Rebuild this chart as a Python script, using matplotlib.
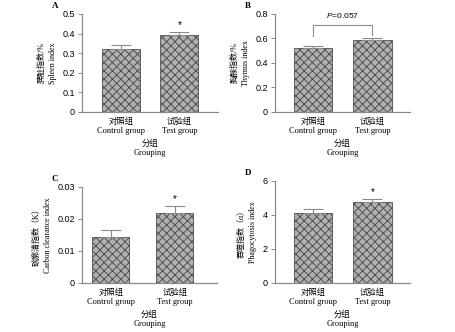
import numpy as np
import matplotlib
matplotlib.use("Agg")
import matplotlib.pyplot as plt

plt.rcParams['font.family'] = ['Liberation Serif', 'Noto Sans CJK SC']
plt.rcParams['hatch.linewidth'] = 0.7
plt.rcParams['mathtext.fontset'] = 'custom'
plt.rcParams['mathtext.it'] = 'Liberation Sans:italic'

groups = ["对照组\nControl group", "试验组\nTest group"]

spleen = [0.32, 0.39]
spleen_err = [0.023, 0.02]
thymus = [0.52, 0.585]
thymus_err = [0.022, 0.017]
carbon = [0.0143, 0.0218]
carbon_err = [0.0021, 0.0022]
phago = [4.12, 4.78]
phago_err = [0.23, 0.15]

panels = [
    dict(tag="A", pos=[0.180, 0.663, 0.299, 0.295], vals=spleen, err=spleen_err,
         ylim=(0, 0.5), yticks=[0, 0.1, 0.2, 0.3, 0.4, 0.5], ylabels=["0", "0.1", "0.2", "0.3", "0.4", "0.5"],
         ylab="脾脏指数/%\nSpleen index", xlim=(-0.67, 1.66), width=0.65, star=[False, True]),
    dict(tag="B", pos=[0.604, 0.663, 0.297, 0.295], vals=thymus, err=thymus_err,
         ylim=(0, 0.8), yticks=[0, 0.2, 0.4, 0.6, 0.8], ylabels=["0", "0.2", "0.4", "0.6", "0.8"],
         ylab="胸腺指数/%\nThymus index", xlim=(-0.64, 1.63), width=0.64, star=[False, False]),
    dict(tag="C", pos=[0.180, 0.148, 0.297, 0.289], vals=carbon, err=carbon_err,
         ylim=(0, 0.03), yticks=[0, 0.01, 0.02, 0.03], ylabels=["0", "0.01", "0.02", "0.03"],
         ylab="碳廓清指数（K）\nCarbon clearance index", xlim=(-0.45, 1.66), width=0.58, star=[False, True]),
    dict(tag="D", pos=[0.604, 0.148, 0.297, 0.307], vals=phago, err=phago_err,
         ylim=(0, 6), yticks=[0, 2, 4, 6], ylabels=["0", "2", "4", "6"],
         ylab="吞噬指数（α）\nPhagocytosis index", xlim=(-0.64, 1.63), width=0.64, star=[False, True]),
]

fig = plt.figure(figsize=(4.55, 3.32), dpi=100)
x = np.arange(len(groups))
line_gray = "#8a8a8a"

for p in panels:
    ax = fig.add_axes(p["pos"])
    ax.bar(x, p["vals"], width=p["width"], color="#b0b0b0", edgecolor="#505050",
           hatch="xxxx", linewidth=0.6, zorder=2)
    ax.errorbar(x, p["vals"], yerr=[[0, 0], p["err"]], fmt="none", ecolor=line_gray,
                elinewidth=0.8, capsize=7, capthick=0.8, zorder=3)
    ax.set_xlim(*p["xlim"])
    ax.set_ylim(*p["ylim"])
    ax.set_yticks(p["yticks"])
    ax.set_yticklabels(p["ylabels"], family=["Liberation Sans"], fontsize=6.5)
    ax.set_xticks(x)
    ax.set_xticklabels(groups, fontsize=6, linespacing=1.15)
    ax.tick_params(axis="x", length=0, pad=4)
    ax.tick_params(axis="y", length=3, width=0.7, color=line_gray, pad=2)
    for s in ["top", "right"]:
        ax.spines[s].set_visible(False)
    for s in ["left", "bottom"]:
        ax.spines[s].set_color(line_gray)
        ax.spines[s].set_linewidth(0.9)
    ax.set_ylabel(p["ylab"], fontsize=5.8, linespacing=1.5, labelpad=4)
    ax.set_xlabel("分组\nGrouping", fontsize=6, linespacing=1.25, labelpad=3)
    ax.text(-0.2, 1.04, p["tag"], transform=ax.transAxes, fontsize=6.5,
            fontweight="bold", ha="center", va="bottom")
    top = p["ylim"][1]
    for i, st in enumerate(p["star"]):
        if st:
            ax.text(x[i], p["vals"][i] + p["err"][i] + top * 0.02, "*", ha="center",
                    va="bottom", fontsize=7, family=["Liberation Sans"])
    if p["tag"] == "B":
        yb = 0.71
        ax.plot([x[0], x[0], x[1], x[1]], [0.62, yb, yb, 0.625], color=line_gray, lw=0.8)
        ax.text(0.5, yb + 0.04, "$P$=0.057", ha="center", va="bottom", fontsize=6,
                family=["Liberation Sans"])

fig.savefig("out.png", dpi=100)
